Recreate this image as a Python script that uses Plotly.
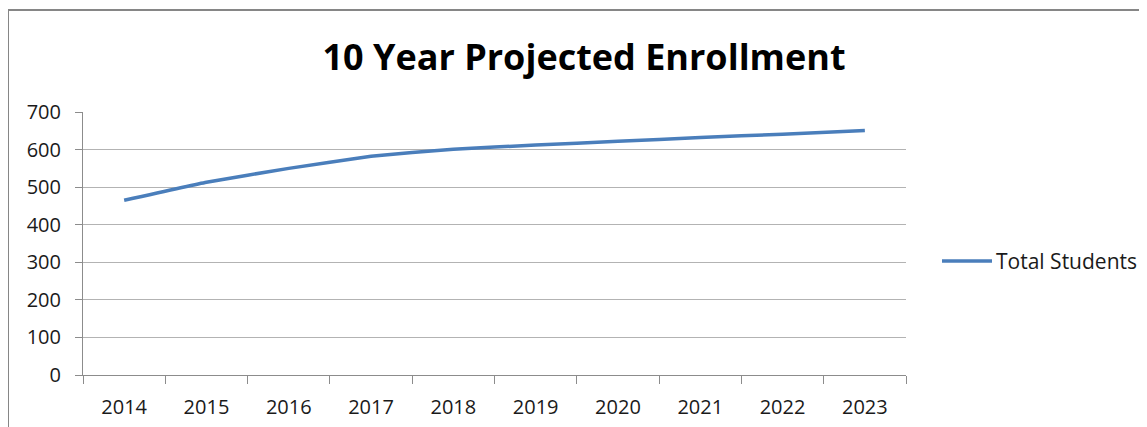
import plotly.graph_objects as go

years = ["2014", "2015", "2016", "2017", "2018", "2019", "2020", "2021", "2022", "2023"]
total_students = [465, 513, 550, 582, 601, 612, 622, 632, 641, 651]
y_ticks = [0, 100, 200, 300, 400, 500, 600, 700]
series_name = "Total Students"
title_text = "10 Year Projected Enrollment"

OFF = 8  # page body offset
W, H = 1147 - OFF, 427 - OFF
L, T = 83 - OFF, 112 - OFF
R = W - (906 - OFF)
B = H - (375 - OFF)
pw, ph = W - L - R, H - T - B

def px_x(p):
    return (p - OFF - L) / pw

def px_y(p):
    return (H - B - (p - OFF)) / ph

fig = go.Figure()
fig.add_trace(go.Scatter(
    x=years, y=total_students, mode="lines", name=series_name, showlegend=False,
    line=dict(color="#4a7ebb", width=3.5, shape="spline", smoothing=0.3),
))

fig.update_layout(
    width=W, height=H,
    margin=dict(l=L, r=R, t=T, b=B),
    paper_bgcolor="white", plot_bgcolor="white",
    font=dict(family="Open Sans", size=20, color="#1a1a1a"),
    title=dict(text="<b>" + title_text + "</b>", x=(584 - OFF) / W, xanchor="center",
               y=1 - (57 - OFF) / H, yanchor="middle", font=dict(size=36, color="#000000")),
    showlegend=False,
    xaxis=dict(type="category", tickson="boundaries", ticks="outside", ticklen=8,
               range=[-0.5, len(years) - 0.5], automargin=False,
               tickcolor="#8c8c8c", showline=True, linecolor="#8c8c8c", linewidth=1,
               showgrid=False, tickfont=dict(size=20), ticklabelstandoff=14),
    yaxis=dict(range=[0, 700], tickvals=y_ticks, ticks="outside", ticklen=7,
               automargin=False,
               tickcolor="#8c8c8c", showline=True, linecolor="#8c8c8c", linewidth=1,
               showgrid=True, gridcolor="#b3b3b3", gridwidth=1, zeroline=False,
               tickfont=dict(size=20), ticklabelstandoff=10),
    shapes=[
        dict(type="rect", xref="paper", yref="paper",
             x0=px_x(8), x1=px_x(1170), y0=px_y(450), y1=px_y(10),
             line=dict(color="#868686", width=2), fillcolor="rgba(0,0,0,0)",
             layer="below"),
        dict(type="line", xref="paper", yref="paper",
             x0=px_x(942), x1=px_x(992), y0=px_y(261), y1=px_y(261),
             line=dict(color="#4a7ebb", width=3.5)),
    ],
    annotations=[
        dict(text=series_name, xref="paper", yref="paper", x=px_x(994), y=px_y(261),
             xanchor="left", yanchor="middle", showarrow=False,
             font=dict(size=21, color="#1a1a1a")),
    ],
)

fig.write_html("out.html")
